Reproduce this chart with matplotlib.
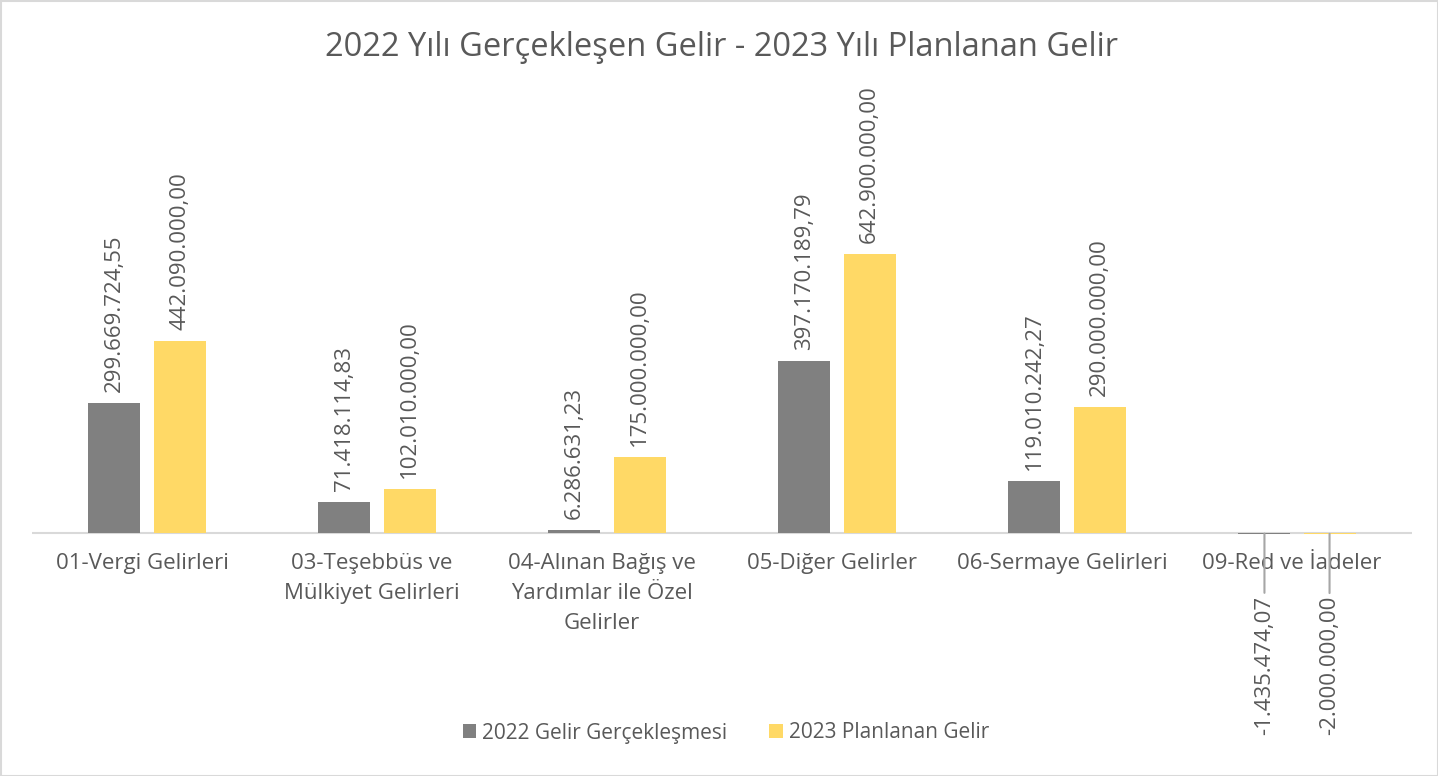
import numpy as np
import matplotlib
matplotlib.use('Agg')
import matplotlib.pyplot as plt
from matplotlib.patches import Rectangle

plt.rcParams['font.family'] = ['Open Sans', 'DejaVu Sans']

# veriler
kategoriler = ['01-Vergi Gelirleri', '03-Teşebbüs ve\nMülkiyet Gelirleri',
               '04-Alınan Bağış ve\nYardımlar ile Özel\nGelirler', '05-Diğer Gelirler',
               '06-Sermaye Gelirleri', '09-Red ve İadeler']
gelir_2022 = [299669724.55, 71418114.83, 6286631.23, 397170189.79, 119010242.27, -1435474.07]
plan_2023 = [442090000.00, 102010000.00, 175000000.00, 642900000.00, 290000000.00, -2000000.00]
seri_adlari = ['2022 Gelir Gerçekleşmesi', '2023 Planlanan Gelir']

renk_gri = '#808080'
renk_sari = '#FFD966'
yazi_rengi = '#595959'
fs = 16


def tr_format(v):
    s = '{:,.2f}'.format(v)
    return s.replace(',', 'X').replace('.', ',').replace('X', '.')


fig = plt.figure(figsize=(14.38, 7.76), dpi=100)
W, H = 1438, 776
ax = fig.add_axes([32 / W, 1 - 700 / H, 1380 / W, 600 / H])

x = np.arange(len(kategoriler))
genislik = 0.226
aralik = 0.057
x1 = x - (genislik + aralik) / 2
x2 = x + (genislik + aralik) / 2

b1 = ax.bar(x1, gelir_2022, genislik, color=renk_gri, label=seri_adlari[0], zorder=2)
b2 = ax.bar(x2, plan_2023, genislik, color=renk_sari, label=seri_adlari[1], zorder=2)

ax.set_xlim(-0.5, len(kategoriler) - 0.5)
ax.set_ylim(-384.8e6, 997.7e6)
ax.axhline(0, color='#D9D9D9', lw=1.5, zorder=1)

for s in ax.spines.values():
    s.set_visible(False)
ax.set_yticks([])
ax.set_xticks([])

# kategori etiketleri sıfır çizgisinin altında
for xi, k in zip(x, kategoriler):
    ax.annotate(k, (xi, 0), xytext=(-5, -20), textcoords='offset pixels',
                ha='center', va='top', fontsize=fs, color=yazi_rengi,
                linespacing=1.55, multialignment='center')

# veri etiketleri
for xs, vals in [(x1, gelir_2022), (x2, plan_2023)]:
    for xi, v in zip(xs, vals):
        if v >= 0:
            ax.annotate(tr_format(v), (xi, v), xytext=(0, 11), textcoords='offset pixels',
                        rotation=90, ha='center', va='bottom', fontsize=fs, color=yazi_rengi)
        else:
            ax.annotate(tr_format(v), (xi, v), xytext=(0, -62), textcoords='offset pixels',
                        rotation=90, ha='center', va='top', fontsize=fs, color=yazi_rengi,
                        arrowprops=dict(arrowstyle='-', color='#A6A6A6', lw=1.5,
                                        shrinkA=0, shrinkB=0))

fig.suptitle('2022 Yılı Gerçekleşen Gelir - 2023 Yılı Planlanan Gelir',
             fontsize=23.5, color=yazi_rengi, x=0.502, y=1 - 47 / H, va='center')

fig.legend(handles=[b1, b2], loc='center', bbox_to_anchor=(726 / W, 1 - 733 / H),
           ncol=2, frameon=False, fontsize=15, labelcolor=yazi_rengi,
           handlelength=0.65, handleheight=0.65, handletextpad=0.3, columnspacing=2.0)

fig.add_artist(Rectangle((0.5 / W, 0.5 / H), 1 - 1 / W, 1 - 1 / H, transform=fig.transFigure,
                         fill=False, edgecolor='#D9D9D9', lw=1.5))

plt.savefig('out.png', dpi=100)
